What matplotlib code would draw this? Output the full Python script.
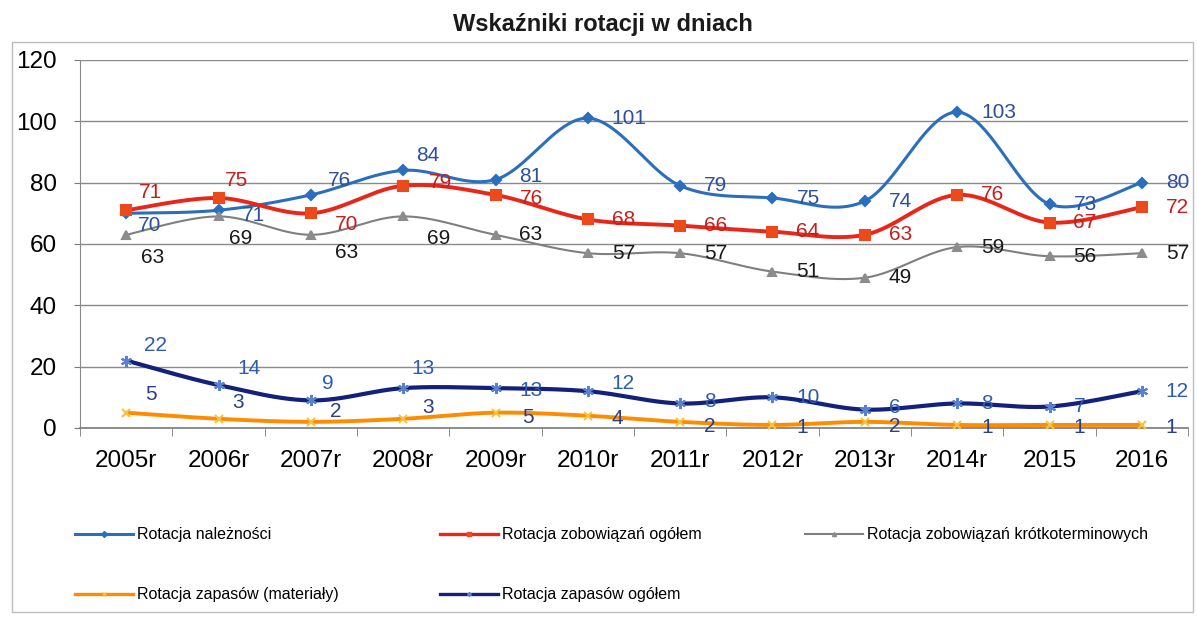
import numpy as np
import matplotlib
matplotlib.use("Agg")
import matplotlib.pyplot as plt
from matplotlib.lines import Line2D
from matplotlib.patches import Rectangle

plt.rcParams['font.family'] = ['Liberation Sans', 'DejaVu Sans']

# ---------------- data ----------------
categories = ["2005r", "2006r", "2007r", "2008r", "2009r", "2010r",
              "2011r", "2012r", "2013r", "2014r", "2015", "2016"]
rot_naleznosci = [70, 71, 76, 84, 81, 101, 79, 75, 74, 103, 73, 80]
rot_zobow_ogolem = [71, 75, 70, 79, 76, 68, 66, 64, 63, 76, 67, 72]
rot_zobow_krotko = [63, 69, 63, 69, 63, 57, 57, 51, 49, 59, 56, 57]
rot_zapasow_mat = [5, 3, 2, 3, 5, 4, 2, 1, 2, 1, 1, 1]
rot_zapasow_ogolem = [22, 14, 9, 13, 13, 12, 8, 10, 6, 8, 7, 12]
series_names = ["Rotacja należności", "Rotacja zobowiązań ogółem",
                "Rotacja zobowiązań krótkoterminowych",
                "Rotacja zapasów (materiały)", "Rotacja zapasów ogółem"]
y_ticks = [0, 20, 40, 60, 80, 100, 120]
title = "Wskaźniki rotacji w dniach"

# ---------------- styles ----------------
R = (24, 0)
lab_off_nal = [(12, -12), (23, -5), (17, 14), (13, 15), (24, 3)] + [R] * 7
lab_off_zob = [(13, 18), (6, 18), (24, -11), (26, 3), (24, -4)] + [R] * 7
lab_off_kro = [(15, -23), (10, -22), (24, -18), (24, -22)] + [R] * 8
lab_off_mat = [(19, 18), (14, 16), (19, 10), (19, 11), (27, -5),
               (24, -3), (24, -5), (24, -3), (24, -5), (24, -3), (24, -3), (24, -3)]
lab_off_zap = [(18, 15), (19, 17), (11, 17), (8, 20), (24, -2), (24, 8),
               (24, 2), (24, 0), (24, 2), (24, 0), (24, 0), (24, 0)]

styles = [
    dict(data=rot_naleznosci, color='#2a6ebd', lw=2.2, marker='D', ms=5,
         mfc='#2a6ebd', mec='#2a6ebd', lc='#2c4f9e', offs=lab_off_nal),
    dict(data=rot_zobow_ogolem, color='#e8261a', lw=2.8, marker='s', ms=7,
         mfc='#ea4a1c', mec='#ea4a1c', lc='#c41f1c', offs=lab_off_zob),
    dict(data=rot_zobow_krotko, color='#7f7f7f', lw=1.5, marker='^', ms=6,
         mfc='#8c8c8c', mec='#8c8c8c', lc='#1a1a1a', offs=lab_off_kro),
    dict(data=rot_zapasow_mat, color='#ff8c00', lw=2.8, marker='x', ms=6,
         mfc='#f5c242', mec='#f5c242', lc='#2a3f8a', offs=lab_off_mat),
    dict(data=rot_zapasow_ogolem, color='#13217a', lw=3.0, marker=(6, 2, 0), ms=8,
         mfc='#5a80d0', mec='#5a80d0', lc='#2f5cb0', offs=lab_off_zap),
]


def smooth(x, y, n=40):
    pts = np.column_stack([x, y]).astype(float)
    P = np.vstack([pts[0], pts, pts[-1]])
    out = []
    t = np.linspace(0, 1, n)[:, None]
    for i in range(len(pts) - 1):
        p0, p1, p2, p3 = P[i], P[i + 1], P[i + 2], P[i + 3]
        c1 = p1 + (p2 - p0) / 6.0
        c2 = p2 - (p3 - p1) / 6.0
        seg = ((1 - t) ** 3) * p1 + 3 * ((1 - t) ** 2) * t * c1 \
            + 3 * (1 - t) * t ** 2 * c2 + t ** 3 * p2
        out.append(seg if i == 0 else seg[1:])
    return np.vstack(out)


W, H = 1197, 617
fig = plt.figure(figsize=(W / 100, H / 100), dpi=100)
fig.patch.set_facecolor('white')

# outer chart frame
fig.add_artist(Rectangle((12 / W, 1 - 612 / H), (1193 - 12) / W, (612 - 42) / H,
                         transform=fig.transFigure, fill=False,
                         edgecolor='#bdbdbd', lw=1.0))

ax = fig.add_axes([80 / W, 1 - 428 / H, (1188 - 80) / W, (428 - 60) / H])
x = np.arange(len(categories))

ax.set_xlim(-0.5, len(categories) - 0.5)
ax.set_ylim(0, 120)
ax.set_yticks(y_ticks)
ax.set_yticklabels([str(v) for v in y_ticks], fontsize=17.5)
ax.set_xticks(x)
ax.set_xticklabels(categories, fontsize=17.5)
ax.set_xticks(np.arange(-0.5, len(categories), 1), minor=True)
ax.tick_params(axis='x', which='major', length=0, pad=16)
ax.tick_params(axis='x', which='minor', length=6, color='#7a7a7a', direction='out')
ax.tick_params(axis='y', length=4, color='#7a7a7a', pad=12.5)
ax.grid(axis='y', color='#8a8a8a', lw=1.0)
ax.set_axisbelow(True)
for s in ['top', 'right']:
    ax.spines[s].set_visible(False)
ax.spines['left'].set_color('#8a8a8a')
ax.spines['bottom'].set_color('#7a7a7a')
ax.spines['bottom'].set_linewidth(1.2)

for i, st in enumerate(styles):
    cur = smooth(x, st['data'])
    ax.plot(cur[:, 0], cur[:, 1], color=st['color'], lw=st['lw'],
            solid_capstyle='round', zorder=3 + i, clip_on=False)
    ax.plot(x, st['data'], ls='none', marker=st['marker'], ms=st['ms'],
            mfc=st['mfc'], mec=st['mec'], mew=1.5, zorder=3 + i, clip_on=False)

for st in styles:
    for xi, v, (dx, dy) in zip(x, st['data'], st['offs']):
        ax.annotate(str(v), (xi, v), xytext=(dx, dy), textcoords='offset pixels',
                    ha='left', va='center', fontsize=15, color=st['lc'],
                    zorder=20, annotation_clip=False)

fig.text(603 / W, 1 - 25 / H, title, ha='center', va='center',
         fontsize=17, fontweight='bold', color='#1a1a1a')

# legend: one entry per slot
leg_pos = [(75, 535), (440, 535), (805, 535), (75, 595), (440, 595)]
for st, name, (lx, ly) in zip(styles, series_names, leg_pos):
    h = Line2D([], [], color=st['color'], lw=min(st['lw'], 2.4),
               marker=st['marker'], ms=3, mfc=st['mfc'], mec=st['mec'])
    lg = fig.legend([h], [name], loc='center left',
                    bbox_to_anchor=(lx / W, 1 - ly / H), frameon=False,
                    fontsize=11.5, handlelength=3.6, handletextpad=0.3,
                    borderpad=0, borderaxespad=0)

fig.savefig("out.png", dpi=100, facecolor='white')
